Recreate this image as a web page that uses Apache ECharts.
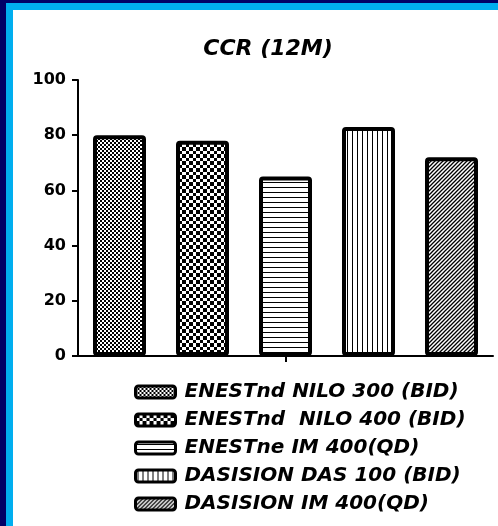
<!DOCTYPE html>
<html>
<head>
<meta charset="utf-8">
<script src="https://cdn.jsdelivr.net/npm/echarts@6/dist/echarts.min.js"></script>
<style>
html,body{margin:0;padding:0;background:#ffffff;}
#chart{width:498px;height:526px;}
</style>
</head>
<body>
<div id="chart"></div>
<script>
var titleText = 'CCR (12M)';
var categories = ['ENESTnd NILO 300 (BID)', 'ENESTnd  NILO 400 (BID)', 'ENESTne IM 400(QD)', 'DASISION DAS 100 (BID)', 'DASISION IM 400(QD)'];
var values = [80, 78, 65, 83, 72];
var yTicks = [0, 20, 40, 60, 80, 100];

function makeTile(w, h, draw) {
  var c = document.createElement('canvas');
  c.width = w; c.height = h;
  var ctx = c.getContext('2d');
  ctx.fillStyle = '#ffffff';
  ctx.fillRect(0, 0, w, h);
  ctx.fillStyle = '#000000';
  ctx.strokeStyle = '#000000';
  draw(ctx);
  return c;
}
var patterns = [
  makeTile(4, 4, function (ctx) { ctx.fillRect(0, 0, 2, 2); ctx.fillRect(2, 2, 2, 2); }),
  makeTile(7, 7, function (ctx) { ctx.fillRect(0, 0, 4, 4); ctx.fillRect(4, 4, 3, 3); }),
  makeTile(5, 5, function (ctx) { ctx.fillRect(0, 2, 5, 1); }),
  makeTile(5, 5, function (ctx) { ctx.fillRect(2, 0, 1, 5); }),
  makeTile(4, 4, function (ctx) {
    ctx.lineWidth = 1.3;
    ctx.beginPath();
    ctx.moveTo(-1, 5); ctx.lineTo(5, -1);
    ctx.moveTo(-1, 1); ctx.lineTo(1, -1);
    ctx.moveTo(3, 5); ctx.lineTo(5, 3);
    ctx.stroke();
  })
];

var series = categories.map(function (name, i) {
  var d = categories.map(function (c, j) { return j === i ? values[i] : '-'; });
  return {
    name: name,
    type: 'bar',
    data: d,
    barWidth: 53,
    barGap: '-100%',
    itemStyle: {
      color: { image: patterns[i], repeat: 'repeat' },
      borderColor: '#000000',
      borderWidth: 4,
      borderRadius: 2
    },
    emphasis: { disabled: true }
  };
});

var chart = echarts.init(document.getElementById('chart'), null, { renderer: 'canvas' });
chart.setOption({
  animation: false,
  backgroundColor: '#ffffff',
  graphic: [
    { type: 'rect', z: -10, shape: { x: 0, y: 0, width: 498, height: 10 }, style: { fill: '#00aeef' } },
    { type: 'rect', z: -10, shape: { x: 0, y: 0, width: 13, height: 526 }, style: { fill: '#00aeef' } },
    { type: 'rect', z: -9, shape: { x: 0, y: 0, width: 498, height: 3 }, style: { fill: '#000066' } },
    { type: 'rect', z: -9, shape: { x: 0, y: 0, width: 6, height: 526 }, style: { fill: '#000066' } }
  ],
  title: {
    text: titleText,
    left: 263,
    top: 33,
    textAlign: 'center',
    textStyle: {
      fontFamily: 'DejaVu Sans',
      fontWeight: 'bold',
      fontStyle: 'italic',
      fontSize: 22,
      color: '#000000'
    }
  },
  grid: { left: 78, right: 5, top: 80, bottom: 170, containLabel: false },
  xAxis: {
    type: 'category',
    data: categories,
    axisLine: { show: true, lineStyle: { color: '#000000', width: 2 } },
    axisTick: {
      show: true,
      alignWithLabel: true,
      interval: function (i) { return i === 2; },
      length: 6,
      lineStyle: { color: '#000000', width: 2 }
    },
    axisLabel: { show: false },
    splitLine: { show: false }
  },
  yAxis: {
    type: 'value',
    min: yTicks[0],
    max: yTicks[yTicks.length - 1],
    interval: 20,
    axisLine: { show: true, lineStyle: { color: '#000000', width: 2 } },
    axisTick: { show: true, length: 6, lineStyle: { color: '#000000', width: 2 } },
    axisLabel: {
      margin: 12,
      color: '#000000',
      fontFamily: 'DejaVu Sans',
      fontWeight: 'bold',
      fontSize: 16
    },
    splitLine: { show: false }
  },
  legend: {
    orient: 'vertical',
    left: 129,
    top: 377,
    itemWidth: 40,
    itemHeight: 12,
    itemGap: 8,
    selectedMode: false,
    data: categories,
    itemStyle: { borderWidth: 3, borderColor: '#000000' },
    textStyle: {
      fontFamily: 'DejaVu Sans',
      fontWeight: 'bold',
      fontStyle: 'italic',
      fontSize: 20,
      lineHeight: 20,
      color: '#000000',
      padding: [0, 0, 0, 4]
    }
  },
  series: series
});
</script>
</body>
</html>
